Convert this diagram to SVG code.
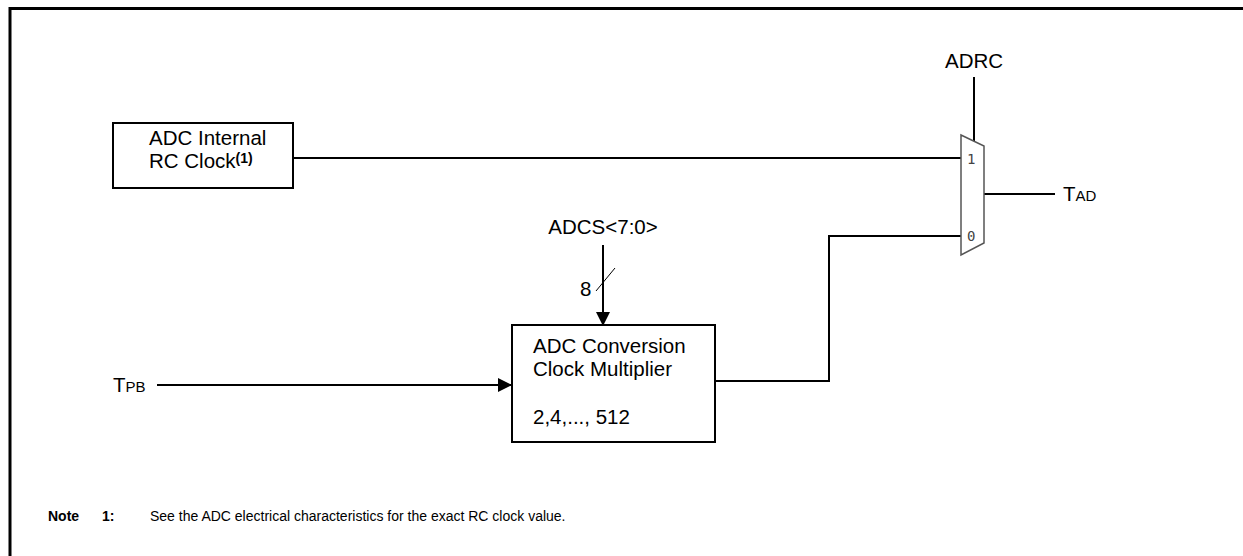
<svg xmlns="http://www.w3.org/2000/svg" width="1243" height="556" viewBox="0 0 1243 556">
<defs>
<style>
.t{font-family:"Liberation Sans",Arial,sans-serif;font-size:20.5px;fill:#000}
.n{font-family:"Liberation Sans",Arial,sans-serif;font-size:14px;fill:#000}
.m{font-family:"DejaVu Sans Mono","Liberation Mono",monospace;font-size:14px;fill:#444}
.box{fill:#fff;stroke:#000;stroke-width:2}
.w{fill:none;stroke:#000;stroke-width:2}
</style>
<marker id="ah" markerWidth="14" markerHeight="14" refX="13" refY="7" orient="auto" markerUnits="userSpaceOnUse">
<path d="M0,0 L14,7 L0,14 Z" fill="#000"/>
</marker>
</defs>
<rect width="1243" height="556" fill="#fff"/>
<path d="M10,556 V8.5 H1243" fill="none" stroke="#000" stroke-width="3"/>
<g id="connectors">
<path class="w" d="M293,158 H961"/>
<path class="w" d="M974,77 V141"/>
<path class="w" d="M984,194 H1055"/>
<path class="w" d="M715,381 H829 V236 H961"/>
<path class="w" d="M603,245 V325" marker-end="url(#ah)"/>
<path d="M596,291 L615,268" fill="none" stroke="#000" stroke-width="1"/>
<path class="w" d="M157,385 H511" marker-end="url(#ah)"/>
</g>
<g id="adc-internal">
<rect class="box" x="113" y="123" width="180" height="65"/>
<text class="t" x="149" y="145">ADC Internal</text>
<text class="t" x="149" y="168">RC Clock<tspan font-weight="bold" font-size="14" dy="-5">(1)</tspan></text>
</g>
<g id="mux">
<path d="M961,135 L984,146 L984,243 L961,255 Z" fill="#fff" stroke="#555" stroke-width="1.5"/>
<text class="m" x="967" y="164">1</text>
<text class="m" x="967" y="241">0</text>
</g>
<g id="adrc"><text class="t" x="974" y="68" text-anchor="middle">ADRC</text></g>
<g id="tad"><text class="t" x="1063" y="201">T<tspan font-size="15">AD</tspan></text></g>
<g id="adcs"><text class="t" x="603" y="234" text-anchor="middle">ADCS&lt;7:0&gt;</text>
<text class="t" x="580" y="296">8</text></g>
<g id="tpb"><text class="t" x="113" y="392">T<tspan font-size="15">PB</tspan></text></g>
<g id="multiplier">
<rect class="box" x="512" y="325" width="203" height="117"/>
<text class="t" x="533" y="353">ADC Conversion</text>
<text class="t" x="533" y="376">Clock Multiplier</text>
<text class="t" x="533" y="424">2,4,..., 512</text>
</g>
<g id="note">
<text class="n" x="48" y="521" font-weight="bold">Note</text>
<text class="n" x="102" y="521" font-weight="bold">1:</text>
<text class="n" x="150" y="521">See the ADC electrical characteristics for the exact RC clock value.</text>
</g>
</svg>
